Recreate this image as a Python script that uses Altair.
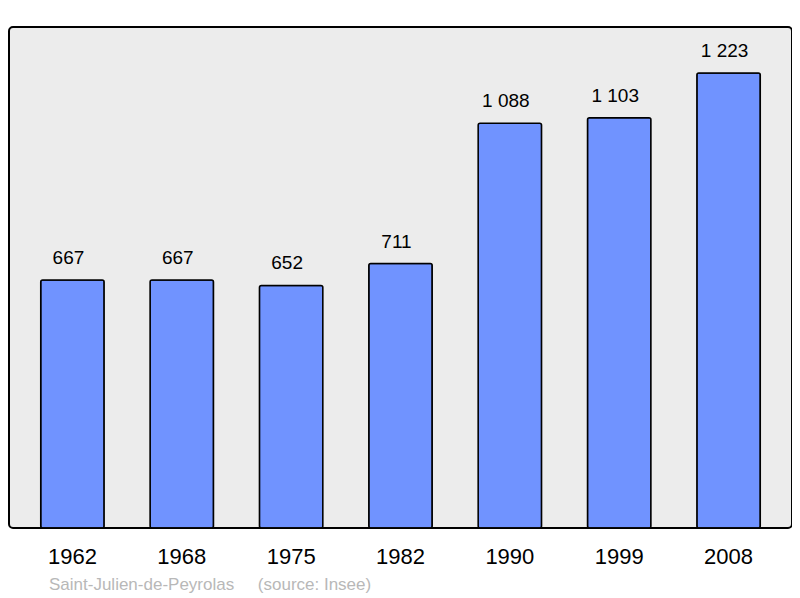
import altair as alt
import pandas as pd

years = ["1962", "1968", "1975", "1982", "1990", "1999", "2008"]
population = [667, 667, 652, 711, 1088, 1103, 1223]
footer = ["Saint-Julien-de-Peyrolas" + "\u00a0" * 5 + "(source: Insee)"]

df = pd.DataFrame({"year": years, "pop": population})
df["label"] = [f"{v:,}".replace(",", "\u00a0") for v in population]

FONT = "Liberation Sans"

x = alt.X("year:N", sort=years,
          scale=alt.Scale(paddingInner=0.42, paddingOuter=0.29),
          axis=alt.Axis(title=None, labelAngle=0, ticks=False, domain=False,
                        labelFontSize=22, labelFont=FONT, labelColor="#000",
                        labelPadding=18, grid=False))
y = alt.Y("pop:Q", scale=alt.Scale(domain=[0, 1347], nice=False, zero=True),
          axis=None)

bars = alt.Chart(df).mark_bar(color="#7093ff", stroke="#000", strokeWidth=1.5,
                              cornerRadius=2).encode(x=x, y=y)
labels = alt.Chart(df).mark_text(fontSize=19, font=FONT, color="#000",
                                 dy=-12, dx=-4, baseline="bottom").encode(
    x=x, y=y, text="label:N")
foot = alt.Chart(pd.DataFrame({"t": footer})).mark_text(
    fontSize=17, font=FONT, color="#b8b8b8", align="left", baseline="middle"
).encode(x=alt.value(40), y=alt.value(558), text="t:N")

chart = alt.layer(bars, labels, foot).properties(
    width=783, height=501,
    autosize=alt.AutoSizeParams(type="none"),
    padding={"left": 1, "top": 19, "right": 0, "bottom": 70},
    background="#ffffff",
).configure_view(fill="#ececec", stroke="#000", strokeWidth=2, cornerRadius=4)

chart.save("out.html", embed_options={"renderer": "svg", "actions": False})
